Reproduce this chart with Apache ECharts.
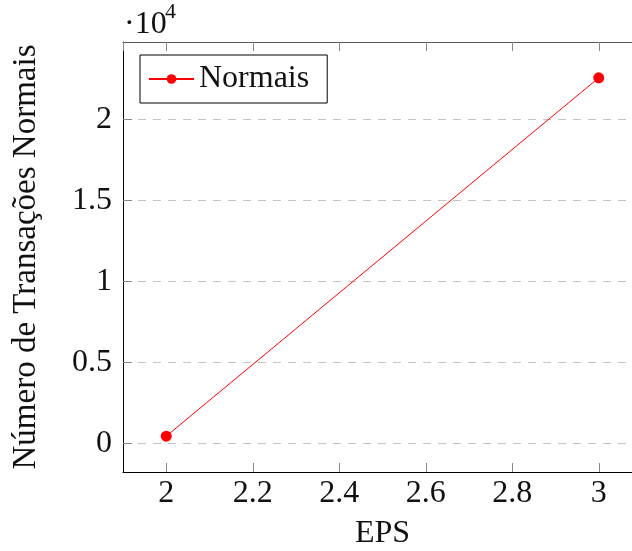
<!DOCTYPE html>
<html>
<head>
<meta charset="utf-8">
<script src="https://cdn.jsdelivr.net/npm/echarts@6/dist/echarts.min.js"></script>
<style>
    html, body { margin: 0; padding: 0; background: #fff; }
    #chart { width: 632px; height: 551px; }
</style>
</head>
<body>
<div id="chart"></div>
<script>
// dados
var epsValues = [2, 3];
var normalCounts = [430, 22590];
var seriesName = "Normais";
var xTitle = "EPS";
var yTitle = "Número de Transações Normais";
var yScale = 10000;   // eixo y mostrado em unidades de 10^4

var fontFamily = "'Liberation Serif', 'DejaVu Serif', serif";

function buildPoints() {
    var pts = [];
    for (var i = 0; i < epsValues.length; i++) {
        pts.push([epsValues[i], normalCounts[i]]);
    }
    return pts;
}

function initChart(id) {
    var chart = echarts.init(document.getElementById(id), null, { renderer: "canvas" });

    // limites como no pgfplots (10% de folga)
    var xr = epsValues[epsValues.length - 1] - epsValues[0];
    var xmin = epsValues[0] - 0.1 * xr, xmax = epsValues[epsValues.length - 1] + 0.1 * xr;
    var ylo = Math.min.apply(null, normalCounts), yhi = Math.max.apply(null, normalCounts);
    var ymin = ylo - 0.1 * (yhi - ylo), ymax = yhi + 0.1 * (yhi - ylo);

    var tickStyle = { show: true, inside: true, length: 9, lineStyle: { color: "#888", width: 1 } };

    var option = {
        animation: false,
        grid: { left: 123, top: 42, right: -10, bottom: 79, outerBoundsMode: "none", containLabel: false },
        legend: {
            left: 140,
            top: 55,
            data: [seriesName],
            itemWidth: 45,
            itemHeight: 12,
            padding: [8, 18, 8, 8],
            borderColor: "#000",
            borderWidth: 1,
            borderRadius: 0,
            textStyle: { fontFamily: fontFamily, fontSize: 32, color: "#111", lineHeight: 32 }
        },
        xAxis: [
            {
                type: "value",
                min: xmin,
                max: xmax,
                minInterval: 0.2,
                maxInterval: 0.2,
                name: xTitle,
                nameLocation: "middle",
                nameGap: 46,
                nameTextStyle: { fontFamily: fontFamily, fontSize: 32, color: "#111" },
                axisLine: { show: true, onZero: false, lineStyle: { color: "#000", width: 1 } },
                axisTick: tickStyle,
                axisLabel: {
                    show: true, margin: 6, showMinLabel: false, showMaxLabel: false,
                    fontFamily: fontFamily, fontSize: 32, color: "#111"
                },
                splitLine: { show: false }
            },
            {
                type: "value",
                position: "top",
                min: xmin,
                max: xmax,
                minInterval: 0.2,
                maxInterval: 0.2,
                axisLine: { show: true, onZero: false, lineStyle: { color: "#555", width: 1 } },
                axisTick: tickStyle,
                axisLabel: { show: false },
                splitLine: { show: false }
            }
        ],
        yAxis: {
            type: "value",
            min: ymin,
            max: ymax,
            minInterval: 5000,
            maxInterval: 5000,
            name: yTitle,
            nameLocation: "middle",
            nameGap: 80,
            nameTextStyle: { fontFamily: fontFamily, fontSize: 33, color: "#111" },
            axisLine: { show: true, onZero: false, lineStyle: { color: "#000", width: 1 } },
            axisTick: tickStyle,
            axisLabel: {
                show: true, margin: 11, showMinLabel: false, showMaxLabel: false,
                fontFamily: fontFamily, fontSize: 32, color: "#111",
                formatter: function (v) {
                    return String(parseFloat((v / yScale).toFixed(3)));
                }
            },
            splitLine: { show: true, lineStyle: { color: "#c4c4c4", width: 1, type: [8, 7] } }
        },
        graphic: [
            {
                type: "text", left: 124, top: 9,
                style: { text: "·10", font: "32px " + fontFamily, fill: "#111" }
            },
            {
                type: "text", left: 165, top: 1,
                style: { text: "4", font: "22px " + fontFamily, fill: "#111" }
            }
        ],
        series: [
            {
                name: seriesName,
                type: "line",
                data: buildPoints(),
                symbol: "circle",
                symbolSize: 11,
                lineStyle: { color: "#ff0000", width: 1 },
                itemStyle: { color: "#ff0000" },
                clip: false
            }
        ]
    };
    chart.setOption(option);
}

initChart("chart");
</script>
</body>
</html>
